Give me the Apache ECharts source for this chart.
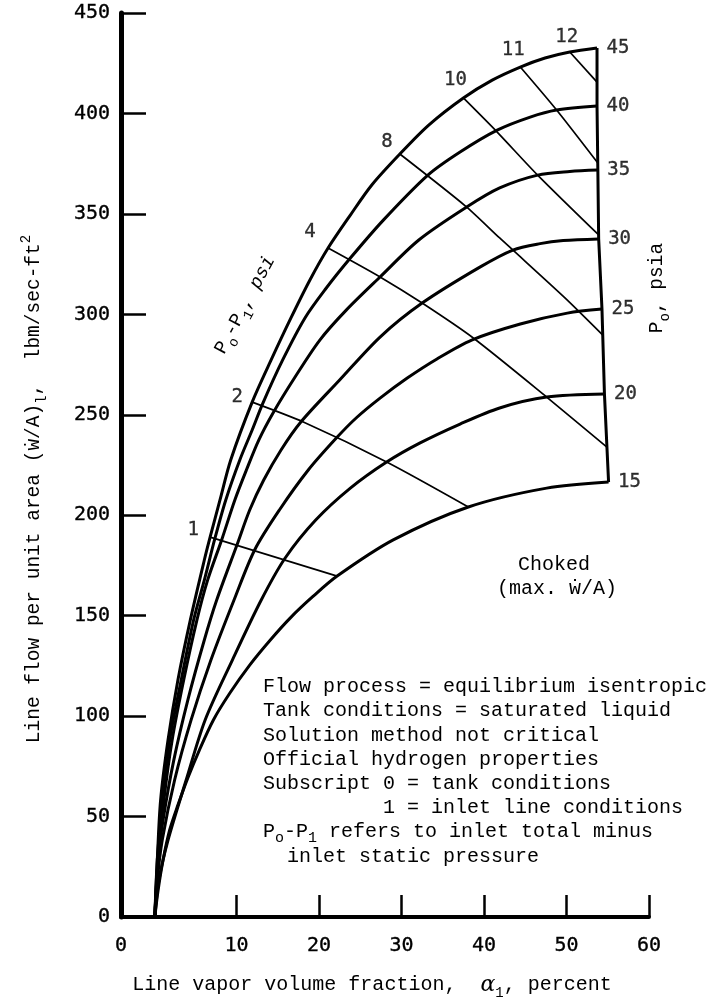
<!DOCTYPE html>
<html><head><meta charset="utf-8">
<script src="https://cdn.jsdelivr.net/npm/echarts@6/dist/echarts.min.js"></script>
<style>html,body{margin:0;padding:0;background:#fff}#c{width:712px;height:1007px}</style>
</head><body><div id="c"></div>
<script>
// ---------------- data ----------------
const X_MIN = -4, X_MAX = 60;
const xTickValues = [10, 20, 30, 40, 50, 60];
const xLabelValues = [-4, 10, 20, 30, 40, 50, 60];
const xTickLabels = ['0', '10', '20', '30', '40', '50', '60'];
const Y_MIN = 0, Y_MAX = 450, Y_STEP = 50;

// tank pressure P0, psia
const tankPressures = ['15', '20', '25', '30', '35', '40', '45'];
const curve15 = [[0.1,0],[0.5,13.4],[1.1,28.4],[1.9,43.3],[2.9,55.7],[4.1,69.2],[5.5,83.1],[7.2,98.1],[9.2,111.5],[11.6,125.4],[14.1,137.9],[16.5,148.8],[19.2,159.3],[22.2,169.7],[29.0,187.7],[38.1,204.1],[47.6,213.5],[55.1,216.5]];
const curve20 = [[0.1,0],[0.6,18.4],[1.7,38.3],[3.9,68.2],[6.2,98.1],[9.5,127.9],[13.0,157.8],[15.9,178.7],[19.6,197.6],[23.8,213.5],[28.2,226.5],[32.2,235.9],[37.1,245.4],[41.9,253.4],[47.6,258.8],[54.6,260.3]];
const curve25 = [[0.1,0],[0.4,18.4],[1.0,38.3],[2.5,68.2],[4.5,98.1],[6.9,127.9],[9.7,157.8],[12.2,182.7],[15.2,202.6],[18.7,222.5],[22.1,238.4],[24.5,248.4],[27.4,258.3],[30.7,268.3],[34.3,277.8],[38.5,287.2],[44.4,295.2],[50.1,300.6],[54.3,302.6]];
const curve30 = [[0.1,0],[0.5,28.4],[1.1,48.3],[2.4,78.1],[4.1,108.0],[6.1,137.9],[7.6,157.8],[10.1,185.7],[11.6,202.6],[13.3,217.5],[15.4,232.5],[17.8,246.4],[22.5,267.3],[27.4,288.7],[32.5,305.6],[39.5,323.5],[43.5,332.0],[46.8,335.2],[49.6,336.7],[53.9,337.5]];
const curve35 = [[0.1,0],[0.5,28.4],[1.2,58.2],[2.2,88.1],[3.6,118.0],[5.2,147.8],[6.5,167.7],[8.2,187.7],[9.8,207.6],[11.2,222.5],[12.7,237.4],[14.5,251.4],[17.1,268.8],[20.1,287.2],[23.3,302.1],[27.4,318.6],[32.1,337.0],[37.9,353.4],[41.9,362.9],[46.5,369.3],[50.4,371.1],[53.8,371.8]];
const curve40 = [[0.1,0],[0.4,28.4],[1.0,58.2],[1.9,88.1],[3.3,118.0],[4.8,147.8],[6.1,167.7],[7.4,188.7],[8.7,207.6],[10.4,227.5],[11.9,242.4],[13.2,255.8],[15.6,277.3],[18.3,298.2],[20.7,312.1],[23.8,328.0],[27.8,346.9],[33.2,369.3],[37.1,380.8],[41.6,391.7],[45.6,398.2],[48.8,401.7],[53.7,403.7]];
const curve45 = [[0.1,0],[0.4,28.4],[0.8,58.2],[1.7,88.1],[2.9,118.0],[4.4,147.8],[6.1,177.7],[6.8,189.1],[8.0,207.6],[9.3,227.5],[11.9,256.3],[14.2,277.3],[16.6,298.2],[18.9,317.1],[21.1,333.0],[23.8,349.4],[26.4,364.4],[29.8,379.8],[33.3,394.2],[37.5,407.7],[41.0,416.6],[44.4,423.1],[47.4,427.6],[50.4,430.6],[53.7,432.6]];

// P0 - P1, psi (lines of constant pressure drop)
const deltaP = ['1', '2', '4', '8', '10', '11', '12'];
const dp1  = [[6.8,189.1],[22.2,169.7]];
const dp2  = [[11.9,256.3],[18.1,246.4],[28.2,226.5],[38.1,204.1]];
const dp4  = [[21.1,333.0],[27.4,318.6],[32.5,305.6],[38.7,288.2],[47.6,258.8],[54.9,233.9]];
const dp8  = [[29.8,379.8],[37.9,353.4],[41.9,338.0],[50.1,307.1],[54.4,289.7]];
const dp10 = [[37.5,407.7],[41.6,390.7],[46.5,369.3],[53.9,339.5]];
const dp11 = [[44.4,423.1],[48.8,401.7],[53.8,375.3]];
const dp12 = [[50.4,430.6],[53.7,415.6]];

// choked (max w/A) boundary
const chokedLine = [[53.7,432.6],[53.7,403.7],[53.8,371.8],[53.9,337.5],[54.3,302.6],[54.6,260.3],[55.1,216.5]];

const notes = [
  'Flow process = equilibrium isentropic',
  'Tank conditions = saturated liquid',
  'Solution method not critical',
  'Official hydrogen properties',
  'Subscript 0 = tank conditions',
  '          1 = inlet line conditions',
  '{n|P}{s|o}{n|-P}{s|1}{n| refers to inlet total minus}',
  '  inlet static pressure'
];

// ---------------- styles ----------------
const MONO = "'Liberation Mono', 'DejaVu Sans Mono', monospace";
const NUM = "'DejaVu Sans Mono', monospace";
const INK = '#000';
const BW = 0.35; // slight stroke on numerals to mimic typewriter weight
const dpLabelOffsets = [[-17,-7],[-15,-5],[-18,-16],[-13,-12],[-8,-18],[-7,-17],[-3,-15]];

const curves = [curve15, curve20, curve25, curve30, curve35, curve40, curve45];
const crossLines = [dp1, dp2, dp4, dp8, dp10, dp11, dp12];

const series = [];
curves.forEach((c, i) => series.push({
  type: 'line', name: 'P0=' + tankPressures[i], data: c, smooth: 0.3, symbol: 'none',
  lineStyle: { color: '#000', width: 3 }, silent: true, z: 3, animation: false
}));
crossLines.forEach((c, i) => series.push({
  type: 'line', name: 'dP=' + deltaP[i], data: c, smooth: 0.25, symbol: 'none',
  lineStyle: { color: '#000', width: 1.7 }, silent: true, z: 2, animation: false
}));
series.push({
  type: 'line', name: 'choked', data: chokedLine, symbol: 'none',
  lineStyle: { color: '#000', width: 3 }, silent: true, z: 3, animation: false
});
series.push({
  type: 'scatter', symbolSize: 1, itemStyle: { color: 'rgba(0,0,0,0)' }, animation: false, silent: true,
  data: curves.map((c, i) => ({ value: c[c.length - 1], name: tankPressures[i] })),
  label: { show: true, position: 'right', distance: 9, formatter: '{b}', fontFamily: NUM, fontSize: 19, color: INK,
    textBorderColor: INK, textBorderWidth: BW }
});
series.push({
  type: 'scatter', symbolSize: 1, itemStyle: { color: 'rgba(0,0,0,0)' }, animation: false, silent: true,
  data: crossLines.map((c, i) => ({ value: c[0], name: deltaP[i], label: { offset: dpLabelOffsets[i] } })),
  label: { show: true, position: 'inside', formatter: '{b}', fontFamily: NUM, fontSize: 19, color: INK,
    textBorderColor: INK, textBorderWidth: BW }
});

const rich = (size) => ({
  n: { fontFamily: MONO, fontSize: size, color: INK, lineHeight: 30, verticalAlign: 'middle' },
  s: { fontFamily: MONO, fontSize: 14, color: INK, lineHeight: 30, verticalAlign: 'bottom' },
  u: { fontFamily: MONO, fontSize: 14, color: INK, lineHeight: 30, verticalAlign: 'top' },
  i: { fontFamily: MONO, fontSize: size, fontStyle: 'italic', color: INK, lineHeight: 30, verticalAlign: 'middle' },
  a: { fontFamily: "'DejaVu Serif', serif", fontSize: 22, fontStyle: 'italic', color: INK, lineHeight: 30, verticalAlign: 'middle' }
});

const graphics = [
  { type: 'text', x: 34, y: 489, rotation: Math.PI / 2, silent: true,
    style: { text: '{n|Line flow per unit area (ẇ/A)}{s|l}{n|,  lbm/sec-ft}{u|2}', rich: rich(19.5), align: 'center', verticalAlign: 'middle' } },
  { type: 'text', x: 372, y: 985, silent: true,
    style: { text: '{n|Line vapor volume fraction,  }{a|α}{s|1}{n|, percent}', rich: rich(20), align: 'center', verticalAlign: 'middle' } },
  { type: 'text', x: 657, y: 288, rotation: Math.PI / 2, silent: true,
    style: { text: '{n|P}{s|o}{n|, psia}', rich: rich(19.5), align: 'center', verticalAlign: 'middle' } },
  { type: 'text', x: 245, y: 305, rotation: 62 * Math.PI / 180, silent: true,
    style: { text: '{n|P}{s|o}{n|-P}{s|1}{n|, }{i|psi}', rich: rich(19), align: 'center', verticalAlign: 'middle' } },
  { type: 'text', x: 554, y: 565, silent: true,
    style: { text: 'Choked', fontFamily: MONO, fontSize: 20, fill: INK, align: 'center', verticalAlign: 'middle' } },
  { type: 'text', x: 557, y: 589, silent: true,
    style: { text: '(max. ẇ/A)', fontFamily: MONO, fontSize: 20, fill: INK, align: 'center', verticalAlign: 'middle' } }
];
notes.forEach((t, k) => graphics.push({
  type: 'text', x: 263, y: 687 + k * 24.2, silent: true,
  style: { text: t.indexOf('{') >= 0 ? t : '{n|' + t + '}', rich: {
      n: { fontFamily: MONO, fontSize: 20, color: INK, lineHeight: 26, verticalAlign: 'middle' },
      s: { fontFamily: MONO, fontSize: 15, color: INK, lineHeight: 26, verticalAlign: 'bottom' } },
    align: 'left', verticalAlign: 'middle' }
}));

const chart = echarts.init(document.getElementById('c'), null, { renderer: 'canvas' });
chart.setOption({
  backgroundColor: '#fff',
  animation: false,
  grid: { left: 121, right: 63, top: 13, bottom: 90, containLabel: false },
  xAxis: {
    type: 'value', min: X_MIN, max: X_MAX,
    axisLine: { show: true, onZero: false, lineStyle: { color: '#000', width: 4 } },
    axisTick: { show: true, inside: true, length: 22, customValues: xTickValues, lineStyle: { color: '#000', width: 2.5 } },
    axisLabel: { customValues: xLabelValues, formatter: v => xTickLabels[xLabelValues.indexOf(v)],
      margin: 19, fontFamily: NUM, fontSize: 20, color: INK, textBorderColor: INK, textBorderWidth: BW },
    splitLine: { show: false }
  },
  yAxis: {
    type: 'value', min: Y_MIN, max: Y_MAX, interval: Y_STEP,
    axisLine: { show: true, onZero: false, lineStyle: { color: '#000', width: 5 } },
    axisTick: { show: true, inside: true, length: 25, lineStyle: { color: '#000', width: 2.5 } },
    axisLabel: { margin: 11, fontFamily: NUM, fontSize: 20, color: INK, textBorderColor: INK, textBorderWidth: BW },
    splitLine: { show: false }
  },
  graphic: graphics,
  series: series
});
</script></body></html>
